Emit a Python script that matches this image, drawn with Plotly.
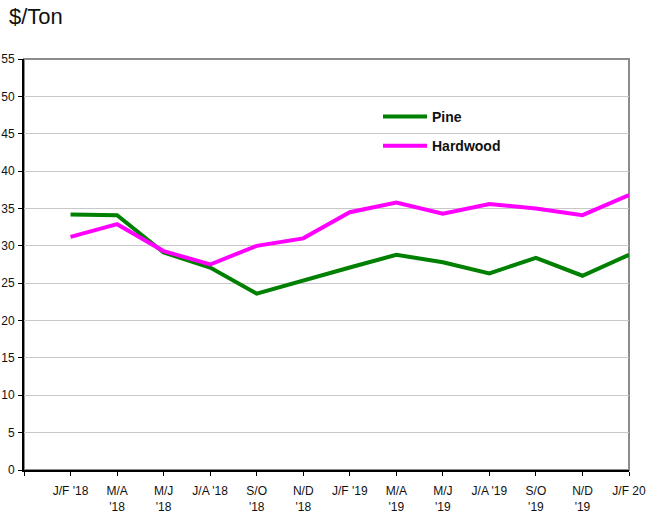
import plotly.graph_objects as go

categories = ["J/F '18", "M/A<br>'18", "M/J<br>'18", "J/A '18", "S/O<br>'18", "N/D<br>'18",
              "J/F '19", "M/A<br>'19", "M/J<br>'19", "J/A '19", "S/O<br>'19", "N/D<br>'19", "J/F 20"]
pine = [34.2, 34.1, 29.1, 27.1, 23.6, 25.4, 27.1, 28.8, 27.8, 26.3, 28.4, 26.0, 28.8]
hardwood = [31.2, 32.9, 29.3, 27.5, 30.0, 31.0, 34.5, 35.8, 34.3, 35.6, 35.0, 34.1, 36.8]
y_ticks = list(range(0, 56, 5))

xs = list(range(len(categories)))

fig = go.Figure()
fig.add_trace(go.Scatter(x=xs, y=pine, mode="lines", name="Pine",
                         line=dict(color="#008000", width=4), legendgroup="a"))
fig.add_trace(go.Scatter(x=xs, y=hardwood, mode="lines", name="Hardwood",
                         line=dict(color="#FF00FF", width=4), legendgroup="b"))

font_family = "Liberation Sans, Arial, sans-serif"

fig.update_layout(
    width=646, height=515,
    margin=dict(l=24, r=17, t=59, b=45, autoexpand=False),
    paper_bgcolor="white", plot_bgcolor="white",
    title=dict(text="$/Ton", x=9/646, xanchor="left", xref="container",
               y=1-16/515, yanchor="middle", yref="container",
               font=dict(family=font_family, size=22, color="#111"),
               automargin=False),
    font=dict(family=font_family, size=12, color="#111"),
    showlegend=True,
    legend=dict(x=(378-24)/605, y=1-(101-59)/411, xanchor="left", yanchor="top",
                bgcolor="rgba(0,0,0,0)", traceorder="grouped", tracegroupgap=8,
                font=dict(family=font_family, size=14, color="#111", weight="bold"),
                itemwidth=44),
    xaxis=dict(range=[-1, 12], tickmode="array", tickvals=[-1] + xs,
               ticktext=[""] + categories, showgrid=False, zeroline=False,
               showline=True, linecolor="black", linewidth=2,
               ticks="outside", ticklen=4, tickcolor="black", tickwidth=1,
               tickangle=0, tickfont=dict(size=12), ticklabelstandoff=5,
               automargin=False),
    yaxis=dict(range=[0, 55], tickmode="array", tickvals=y_ticks,
               showgrid=True, gridcolor="#c8c8c8", gridwidth=1, zeroline=False,
               showline=True, linecolor="black", linewidth=2,
               ticks="outside", ticklen=4, tickcolor="black", tickwidth=1,
               tickfont=dict(size=12), ticklabelstandoff=1, automargin=False),
    shapes=[
        dict(type="rect", xref="paper", yref="paper", x0=0, x1=1, y0=0, y1=1,
             line=dict(color="#8c8c8c", width=2), fillcolor="rgba(0,0,0,0)", layer="below"),
        dict(type="rect", xref="paper", yref="paper",
             x0=(347-24)/605, x1=(551-24)/605,
             y0=1-(162-59)/411, y1=1-(108-59)/411,
             line=dict(width=0), fillcolor="white", layer="between"),
    ],
)

fig.write_html("out.html", config={"displayModeBar": False},
               post_script="document.body.style.margin='0';document.body.style.overflow='hidden';")
